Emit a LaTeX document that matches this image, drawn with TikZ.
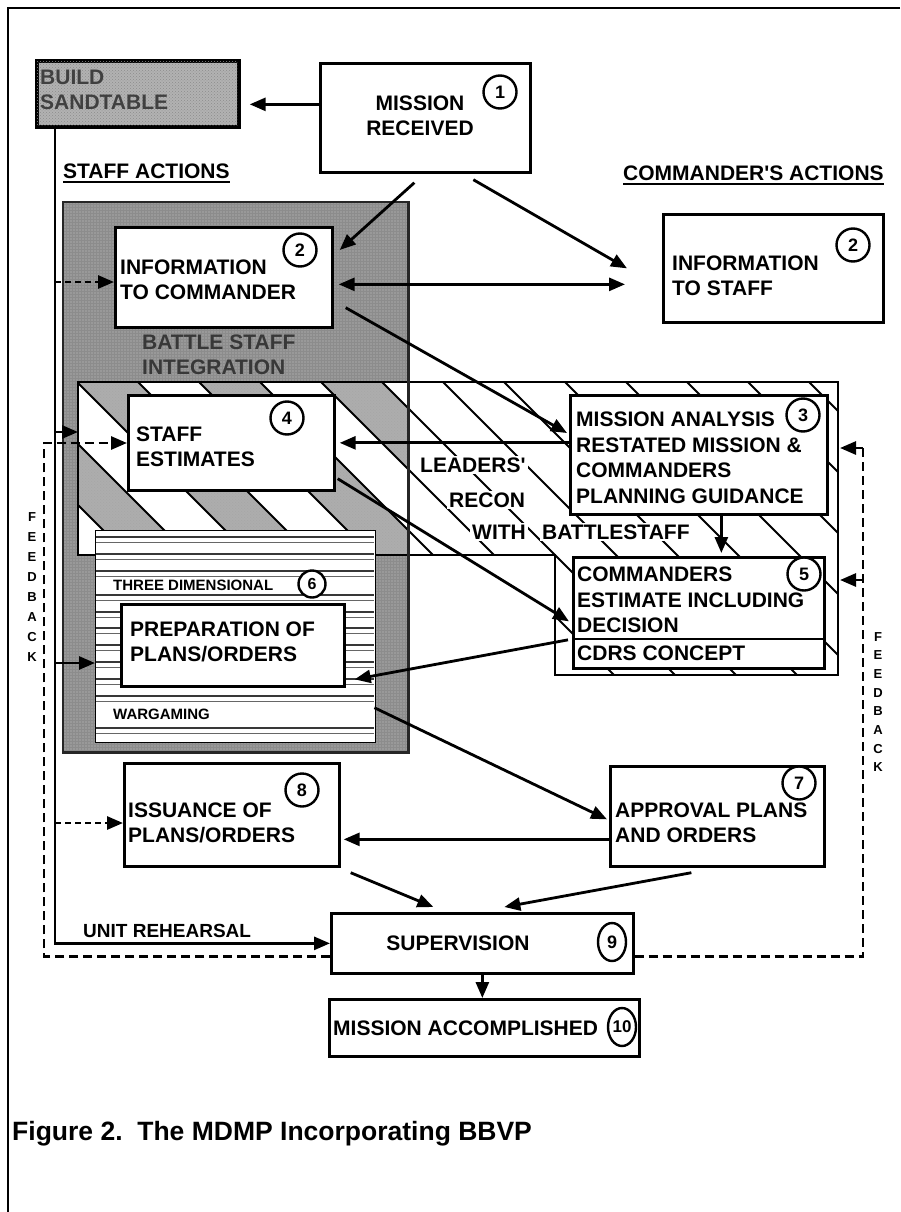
\documentclass[tikz,border=0pt]{standalone}
\usepackage{fontspec}
\setmainfont{Liberation Sans}[Ligatures=TeXOff]
\usetikzlibrary{arrows.meta,patterns,shapes.geometric}
\definecolor{panel}{gray}{0.60}
\definecolor{band}{gray}{0.68}
\definecolor{sand}{gray}{0.70}
\tikzset{
  lbl/.style={font=\fontsize{21}{25.5}\selectfont\bfseries, align=left, inner sep=0pt, anchor=west},
  box/.style={draw, line width=2.7pt, fill=white, anchor=north west, inner sep=0pt},
  num/.style={circle, draw, line width=2.4pt, fill=white, minimum size=33pt, inner sep=0pt,
              font=\fontsize{18}{18}\selectfont\bfseries},
  numtall/.style={ellipse, draw, line width=2.4pt, fill=white, minimum width=28pt,
              minimum height=38pt, inner sep=0pt, font=\fontsize{18}{18}\selectfont\bfseries},
  tip/.style={-{Triangle[length=16pt,width=13pt]}},
  arr/.style={line width=2.8pt, tip},
  farr/.style={arr, dash pattern=on 9pt off 5pt},
  fline/.style={line width=2.8pt, dash pattern=on 9pt off 5pt},
  sarr/.style={arr, dash pattern=on 6pt off 4pt},
  hatch/.style={line width=1.8pt},
  head/.style={font=\fontsize{21}{25}\selectfont\bfseries, inner sep=0pt, anchor=base west},
  fb/.style={font=\fontsize{13}{20}\selectfont\bfseries, align=center, inner sep=0pt},
  strip/.style={fill=white, anchor=north west, inner sep=0pt},
  small/.style={font=\fontsize{15}{15}\selectfont\bfseries, inner sep=0pt, anchor=west},
  recon/.style={font=\fontsize{21}{25}\selectfont\bfseries, inner sep=2pt, fill=white, anchor=west},
}
\begin{document}
\begin{tikzpicture}[x=1pt,y=-1pt]
\useasboundingbox (0,0) rectangle (900,1212);
\fill[white] (0,0) rectangle (900,1212);
% page frame
\draw[line width=1.8pt] (900,8) -- (8,8) -- (8,1212);

% battle staff integration panel
\node[anchor=north west, inner sep=0pt, minimum width=345pt, minimum height=550pt,
      fill=panel] (bsi) at (63,202) {};
\fill[pattern=grid, pattern color=black!45] (63,202) rectangle (408,752);

% hatched planning zone
\coordinate (zl) at (78,382);
\coordinate (zr) at (838,382);
\fill[white] (78,382) -- (838,382) -- (838,675) -- (555,675) -- (555,555) -- (78,555) -- cycle;
\begin{scope}
  \clip (63,202) rectangle (408,752);
  \clip (78,382) -- (838,382) -- (838,675) -- (555,675) -- (555,555) -- (78,555) -- cycle;
  \foreach \c in {-549,-427,...,600}
    \fill[band] ({\c+250},250) -- ({\c+850},850) -- ({\c+911},850) -- ({\c+311},250) -- cycle;
  \foreach \c in {-549,-427,...,600}
    \fill[pattern=crosshatch dots, pattern color=black!35]
      ({\c+250},250) -- ({\c+850},850) -- ({\c+911},850) -- ({\c+311},250) -- cycle;
\end{scope}
\begin{scope}
  \clip (78,382) -- (838,382) -- (838,675) -- (555,675) -- (555,555) -- (78,555) -- cycle;
  \foreach \c in {-549,-488,...,700}
    \draw[hatch] ({\c+250},250) -- ({\c+850},850);
\end{scope}
\draw[line width=2.5pt] (78,382) -- (838,382) -- (838,675) -- (555,675) -- (555,555) -- (78,555) -- cycle;
\draw[line width=2.8pt, black!85] (bsi.north west) rectangle (bsi.south east);

% panel title
\node[lbl, text=black!78] at (142,355) {BATTLE STAFF\\INTEGRATION};

% striped planning block
\node[box, line width=1.4pt, minimum width=280pt, minimum height=212pt] (sb) at (95,530) {};
\foreach \y in {537,554,571,595,612,628,645,662,679,696,728}
  { \draw[line width=2.2pt, black!78] (96,\y) -- (374,\y);
    \draw[line width=0.9pt, black!60] (96,{\y+5}) -- (374,{\y+5}); }
\node[strip, minimum width=276pt, minimum height=16pt] (tds) at (97,577) {};
\node[small] at (113,585.5) {THREE DIMENSIONAL};
\node[num, minimum size=27pt, font=\fontsize{16}{16}\selectfont\bfseries] (c6) at (312,584) {6};
\node[strip, minimum width=276pt, minimum height=15pt] (wgs) at (97,706) {};
\node[small] at (113,714) {WARGAMING};

% boxes
\node[box, fill=sand, minimum width=201pt, minimum height=65pt] (bs) at (36,60) {};
\fill[pattern=crosshatch dots, pattern color=black!45] (bs.north west) rectangle (bs.south east);
\draw[line width=2.7pt] (bs.north west) rectangle (bs.south east);
\node[lbl, text=black!75] at (40,90) {BUILD\\SANDTABLE};

\node[box, minimum width=210pt, minimum height=109pt] (mr) at (319,62) {};
\node[lbl, align=center, anchor=center] at (420,116) {MISSION\\RECEIVED};
\node[num] (c1) at (500,92) {1};

\node[box, minimum width=217pt, minimum height=100pt] (ic) at (114,226) {};
\node[lbl] at (120,280) {INFORMATION\\TO COMMANDER};
\node[num] (c2a) at (300,250) {2};

\node[box, minimum width=220pt, minimum height=108pt] (is) at (662,213) {};
\node[lbl] at (672,276) {INFORMATION\\TO STAFF};
\node[num] (c2b) at (853,245) {2};

\node[box, minimum width=206pt, minimum height=95pt] (se) at (127,394) {};
\node[lbl] at (136,447) {STAFF\\ESTIMATES};
\node[num] (c4) at (287,418) {4};

\node[box, minimum width=257pt, minimum height=119pt] (ma) at (569,394) {};
\node[lbl] at (576,458) {MISSION ANALYSIS\\RESTATED MISSION \&\\COMMANDERS\\PLANNING GUIDANCE};
\node[num] (c3) at (803,415) {3};

\node[box, minimum width=251pt, minimum height=111pt] (ce) at (572,556) {};
\draw[line width=2.7pt] (ce.west |- 0,639) -- (ce.east |- 0,639);
\node[lbl] at (577,600) {COMMANDERS\\ESTIMATE INCLUDING\\DECISION};
\node[lbl] at (577,653) {CDRS CONCEPT};
\node[num] (c5) at (804,574) {5};

\node[box, minimum width=223pt, minimum height=82pt] (pp) at (120,603) {};
\node[lbl] at (130,642) {PREPARATION OF\\PLANS/ORDERS};

\node[box, minimum width=215pt, minimum height=103pt] (io) at (123,762) {};
\node[lbl] at (128,823) {ISSUANCE OF\\PLANS/ORDERS};
\node[num] (c8) at (302,790) {8};

\node[box, minimum width=214pt, minimum height=100pt] (ap) at (609,765) {};
\node[lbl] at (615,823) {APPROVAL PLANS\\AND ORDERS};
\node[num] (c7) at (799,783) {7};

\node[box, minimum width=302pt, minimum height=60pt] (sv) at (330,912) {};
\node[lbl, anchor=center] at (458,943) {SUPERVISION};
\node[numtall] (c9) at (612,942) {9};

\node[box, minimum width=310pt, minimum height=57pt] (mac) at (328,998) {};
\node[lbl] at (333,1028) {MISSION ACCOMPLISHED};
\node[numtall, font=\fontsize{17}{17}\selectfont\bfseries] (c10) at (622,1027) {10};

% headings
\node[head] (sa) at (63,178) {STAFF ACTIONS};
\draw[line width=2pt] ([yshift=-4pt]sa.base west) -- ([yshift=-4pt]sa.base east);
\node[head] (ca) at (623,180) {COMMANDER'S ACTIONS};
\draw[line width=2pt] ([yshift=-4pt]ca.base west) -- ([yshift=-4pt]ca.base east);

% leaders' recon text over the hatching
\node[recon] at (418,465) {LEADERS'};
\node[recon] at (447,500) {RECON};
\node[recon] at (470,532) {WITH};
\node[recon] at (540,532) {BATTLESTAFF};

% connectors between boxes
\draw[arr] ([shift={(0,-13.5)}]mr.west) -- ([shift={(10,10.5)}]bs.east);
\draw[arr] ([shift={(-11,9)}]mr.south) -- ([shift={(6,24)}]ic.north east);
\draw[arr] ([shift={(48,6)}]mr.south) -- ([shift={(-35,0)}]is.west);
\draw[line width=2.8pt, {Triangle[length=16pt,width=13pt]}-{Triangle[length=16pt,width=13pt]}]
  ([shift={(5,7)}]ic.east) -- ([shift={(-37,16)}]is.west);
\draw[arr] ([shift={(12,-21)}]ic.south east) -- ([shift={(-2,39)}]ma.north west);
\draw[arr] ([shift={(0,-12)}]ma.west) -- ([shift={(4,0)}]se.east);
\draw[arr] ([shift={(22.5,0)}]ma.south) -- ([shift={(22.5,-3)}]ce.north);
\draw[arr] ([shift={(2,-13)}]se.south east) -- ([shift={(-3,8.5)}]ce.west);
\draw[arr] ([shift={(-4,27)}]ce.west) -- ([shift={(9,34)}]pp.east);
\draw[arr] ([shift={(-2,71)}]sb.east) -- ([shift={(-2,3)}]ap.west);
\draw[arr] ([shift={(0,23)}]ap.west) -- ([shift={(3,24.5)}]io.east);
\draw[arr] ([shift={(10,5)}]io.south east) -- ([shift={(-49,-5)}]sv.north);
\draw[arr] ([shift={(-26,5)}]ap.south) -- ([shift={(22,-5)}]sv.north);
\draw[arr] (sv.south) -- (sv.south |- mac.north);

% staff line from the sandtable
\coordinate (sl) at ([xshift=19pt]bs.south west);
\draw[arr] (sl) |- (sv.west);
\node[font=\fontsize{19}{19}\selectfont\bfseries, inner sep=0pt, anchor=base west] at (83,937) {UNIT REHEARSAL};
\draw[sarr] (sl |- 0,282) -- (ic.west |- 0,282);
\draw[arr] (sl |- 0,432) -- (zl |- 0,432);
\draw[arr] (sl |- 0,663) -- (sb.west |- 0,663);
\draw[sarr] (sl |- 0,823) -- (io.west |- 0,823);

% feedback loops
\coordinate (fbl) at (44,443);
\coordinate (fbr) at (863,448);
\draw[farr] ([yshift=-13pt]sv.west) -| (fbl) -- (se.west |- fbl);
\draw[fline] ([yshift=-13pt]sv.east) -| (fbr);
\draw[arr] (fbr) -- ([xshift=2pt]zr |- fbr);
\draw[arr] (fbr |- 0,580) -- ([xshift=2pt]zr |- 0,580);
\node[fb] at (32,587) {F\\E\\E\\D\\B\\A\\C\\K};
\node[fb, font=\fontsize{13}{18.7}\selectfont\bfseries] at (878,702) {F\\E\\E\\D\\B\\A\\C\\K};

% caption
\node[font=\fontsize{26.5}{26.5}\selectfont\bfseries, inner sep=0pt, anchor=base west]
  at (12,1140) {Figure 2.\ \ The MDMP Incorporating BBVP};
\end{tikzpicture}
\end{document}
